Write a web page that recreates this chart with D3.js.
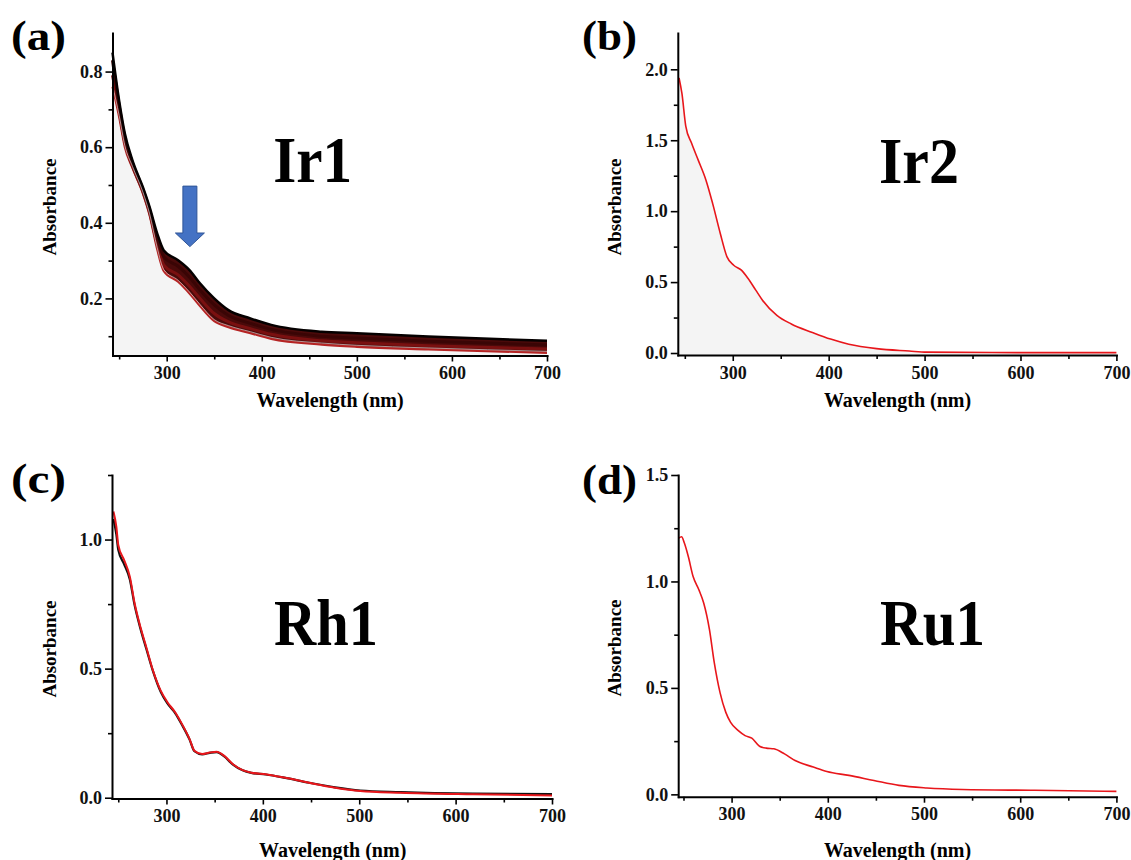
<!DOCTYPE html>
<html>
<head>
<meta charset="utf-8">
<script src="https://cdn.jsdelivr.net/npm/d3@7"></script>
<style>
  body { margin: 0; background: #fff; }
</style>
</head>
<body>
<svg id="chart" width="1131" height="860"></svg>
<script>
// ---- data ----
const xTicks = [300, 400, 500, 600, 700];
const xMinorTicks = [250, 350, 450, 550, 650];

// (a) Ir1 : family of spectra, drawn as top / two middle / bottom traces
const ir1Wavelength = [243, 250, 256, 264, 275, 282, 290, 297, 312, 324, 335, 350, 365, 388, 410, 463, 500, 575, 700];
const ir1Top    = [0.850, 0.723, 0.636, 0.565, 0.494, 0.442, 0.372, 0.327, 0.301, 0.275, 0.240, 0.200, 0.169, 0.147, 0.130, 0.112, 0.108, 0.099, 0.088];
const ir1Upper  = [0.830, 0.710, 0.625, 0.558, 0.488, 0.435, 0.360, 0.310, 0.285, 0.256, 0.222, 0.183, 0.155, 0.134, 0.118, 0.100, 0.095, 0.087, 0.077];
const ir1Lower  = [0.790, 0.695, 0.612, 0.550, 0.482, 0.427, 0.343, 0.288, 0.262, 0.232, 0.200, 0.160, 0.138, 0.120, 0.105, 0.088, 0.083, 0.075, 0.066];
const ir1Bottom = [0.760, 0.680, 0.600, 0.545, 0.477, 0.420, 0.330, 0.272, 0.244, 0.213, 0.180, 0.140, 0.124, 0.108, 0.093, 0.078, 0.072, 0.065, 0.056];
const ir1YTicks = [0.2, 0.4, 0.6, 0.8];
const ir1YMinor = [0.1, 0.3, 0.5, 0.7];

// (b) Ir2
const ir2Wavelength = [244, 247, 251, 257, 264, 272, 279, 287, 294, 301, 309, 316, 324, 331, 346, 361, 383, 402, 421, 450, 484, 502, 600, 700];
const ir2Abs = [1.94, 1.83, 1.60, 1.48, 1.36, 1.22, 1.055, 0.843, 0.678, 0.619, 0.584, 0.525, 0.443, 0.372, 0.266, 0.205, 0.145, 0.098, 0.062, 0.031, 0.014, 0.006, 0.003, 0.003];
const ir2YTicks = [0, 0.5, 1.0, 1.5, 2.0];
const ir2YMinor = [0.25, 0.75, 1.25, 1.75];

// (c) Rh1 : black and red traces
const rh1Wavelength = [245, 248, 250, 256, 262, 267, 273, 279, 286, 294, 301, 309, 316, 324, 329, 337, 345, 352, 360, 369, 379, 388, 403, 422, 448, 475, 501, 543, 618, 700];
const rh1Red   = [1.109, 1.050, 0.979, 0.921, 0.856, 0.752, 0.661, 0.584, 0.493, 0.415, 0.370, 0.331, 0.286, 0.227, 0.182, 0.169, 0.175, 0.178, 0.162, 0.130, 0.107, 0.097, 0.091, 0.078, 0.058, 0.039, 0.026, 0.019, 0.013, 0.009];
const rh1Black = [1.080, 1.020, 0.960, 0.905, 0.845, 0.745, 0.655, 0.578, 0.490, 0.410, 0.365, 0.328, 0.283, 0.225, 0.180, 0.168, 0.174, 0.177, 0.160, 0.128, 0.106, 0.096, 0.090, 0.078, 0.058, 0.040, 0.028, 0.022, 0.016, 0.014];
const rh1YTicks = [0, 0.5, 1.0];
const rh1YMinor = [0.25, 0.75, 1.25];

// (d) Ru1
const ru1Wavelength = [245, 248, 251, 255, 260, 266, 271, 277, 282, 288, 294, 299, 307, 314, 321, 329, 336, 344, 355, 366, 385, 399, 422, 448, 474, 503, 540, 615, 700];
const ru1Abs = [1.203, 1.210, 1.179, 1.117, 1.023, 0.961, 0.899, 0.774, 0.619, 0.478, 0.385, 0.338, 0.299, 0.276, 0.264, 0.226, 0.217, 0.214, 0.190, 0.159, 0.128, 0.107, 0.089, 0.065, 0.042, 0.030, 0.023, 0.019, 0.014];
const ru1YTicks = [0, 0.5, 1.0, 1.5];
const ru1YMinor = [0.25, 0.75, 1.25];

const serif = '"Liberation Serif", "Times New Roman", serif';
const svg = d3.select('#chart');

function zipSeries(xs, ys) {
  return xs.map((w, i) => ({ w: w, a: ys[i] }));
}

const panels = [
  { letter: '(a)', name: 'Ir1', left: 112.5, right: 547, top: 33, bottom: 355.5,
    xDomain: [243, 700], yDomain: [0.049, 0.902], yTicks: ir1YTicks, yMinor: ir1YMinor,
    letterX: 11, letterY: 50, nameX: 312.7, nameY: 182, nameW: 79,
    ylabX: 56, ylabY: 207, xlabX: 330, xlabY: 407, shade: ir1Bottom, shadeX: ir1Wavelength,
    traces: [
      { xs: ir1Wavelength, ys: ir1Bottom, color: '#b52424', width: 2.2 },
      { xs: ir1Wavelength, ys: ir1Lower, color: '#7a1010', width: 3 },
      { xs: ir1Wavelength, ys: ir1Upper, color: '#3a0505', width: 3 },
      { xs: ir1Wavelength, ys: ir1Top, color: '#050000', width: 2.5 }
    ], band: [ir1Top, ir1Bottom] },
  { letter: '(b)', name: 'Ir2', left: 677.8, right: 1116.4, top: 33, bottom: 355,
    xDomain: [242.7, 700], yDomain: [-0.014, 2.256], yTicks: ir2YTicks, yMinor: ir2YMinor,
    letterX: 582, letterY: 50, nameX: 919, nameY: 183, nameW: 80,
    ylabX: 621, ylabY: 207, xlabX: 897.5, xlabY: 407, shade: ir2Abs, shadeX: ir2Wavelength,
    traces: [ { xs: ir2Wavelength, ys: ir2Abs, color: '#e8161b', width: 1.6 } ] },
  { letter: '(c)', name: 'Rh1', left: 112, right: 552, top: 475, bottom: 798.5,
    xDomain: [243.5, 700], yDomain: [-0.003, 1.25], yTicks: rh1YTicks, yMinor: rh1YMinor,
    letterX: 11, letterY: 493, nameX: 326, nameY: 645, nameW: 104,
    ylabX: 56, ylabY: 649, xlabX: 332.7, xlabY: 857,
    traces: [
      { xs: rh1Wavelength, ys: rh1Black, color: '#111111', width: 2.2 },
      { xs: rh1Wavelength, ys: rh1Red, color: '#e8161b', width: 2 }
    ] },
  { letter: '(d)', name: 'Ru1', left: 678.2, right: 1116.4, top: 475, bottom: 796.7,
    xDomain: [244.5, 700], yDomain: [-0.011, 1.5], yTicks: ru1YTicks, yMinor: ru1YMinor,
    letterX: 582, letterY: 494, nameX: 932.5, nameY: 645, nameW: 105,
    ylabX: 621, ylabY: 648, xlabX: 897.5, xlabY: 857,
    traces: [ { xs: ru1Wavelength, ys: ru1Abs, color: '#e8161b', width: 1.6 } ] }
];

function styleAxis(g) {
  g.attr('font-family', serif).attr('font-size', 18).attr('font-weight', 'bold');
  g.select('.domain').attr('stroke', '#000').attr('stroke-width', 2).attr('stroke-linecap', 'square');
  g.selectAll('.tick line').attr('stroke', '#000').attr('stroke-width', 1.6);
  g.selectAll('.tick text').attr('fill', '#111');
}

function drawPanel(p) {
  const x = d3.scaleLinear().domain(p.xDomain).range([p.left, p.right]);
  const y = d3.scaleLinear().domain(p.yDomain).range([p.bottom, p.top]);
  const g = svg.append('g');

  // faint shading below the spectrum
  if (p.shade) {
    const area = d3.area().x(d => x(d.w)).y0(p.bottom).y1(d => y(d.a)).curve(d3.curveMonotoneX);
    g.append('path').datum(zipSeries(p.shadeX, p.shade))
      .attr('d', area).attr('fill', '#f4f4f4');
  }

  // band between the outer Ir1 traces
  if (p.band) {
    const bandData = p.traces[0].xs.map((w, i) => ({ w: w, hi: p.band[0][i], lo: p.band[1][i] }));
    const bandArea = d3.area().x(d => x(d.w)).y0(d => y(d.lo)).y1(d => y(d.hi)).curve(d3.curveMonotoneX);
    g.append('path').datum(bandData).attr('d', bandArea).attr('fill', '#4a0a0a');
  }

  const line = d3.line().x(d => x(d.w)).y(d => y(d.a)).curve(d3.curveMonotoneX);
  p.traces.forEach(t => {
    g.append('path').datum(zipSeries(t.xs, t.ys))
      .attr('d', line).attr('fill', 'none')
      .attr('stroke', t.color).attr('stroke-width', t.width).attr('stroke-linejoin', 'round');
  });

  // white streaks at the lower edge of the Ir1 band
  if (p.band) {
    g.append('path').datum(zipSeries(p.traces[0].xs, p.band[1]))
      .attr('d', line).attr('fill', 'none').attr('stroke', '#ffffff')
      .attr('stroke-width', 0.7).attr('stroke-opacity', 0.8).attr('transform', 'translate(0,-1.5)');
  }

  // axes
  g.append('g').attr('transform', `translate(0,${p.bottom})`)
    .call(d3.axisBottom(x).tickValues(xMinorTicks).tickSize(4).tickFormat(''))
    .call(a => a.select('.domain').remove())
    .call(styleAxis);
  g.append('g').attr('transform', `translate(0,${p.bottom})`)
    .call(d3.axisBottom(x).tickValues(xTicks).tickSize(6).tickPadding(5).tickSizeOuter(0).tickFormat(d3.format('d')))
    .call(styleAxis);
  g.append('g').attr('transform', `translate(${p.left},0)`)
    .call(d3.axisLeft(y).tickValues(p.yMinor.filter(v => v <= p.yDomain[1])).tickSize(4).tickFormat(''))
    .call(a => a.select('.domain').remove())
    .call(styleAxis);
  g.append('g').attr('transform', `translate(${p.left},0)`)
    .call(d3.axisLeft(y).tickValues(p.yTicks).tickSize(7).tickPadding(3).tickSizeOuter(0).tickFormat(d3.format('.1f')))
    .call(styleAxis);

  // axis titles
  g.append('text').attr('x', p.xlabX).attr('y', p.xlabY)
    .attr('text-anchor', 'middle').attr('font-family', serif).attr('font-weight', 'bold')
    .attr('font-size', 20).text('Wavelength (nm)');
  g.append('text').attr('transform', `translate(${p.ylabX},${p.ylabY}) rotate(-90)`)
    .attr('text-anchor', 'middle').attr('font-family', serif).attr('font-weight', 'bold')
    .attr('font-size', 19).text('Absorbance');

  // panel letter and compound name
  g.append('text').attr('x', p.letterX).attr('y', p.letterY)
    .attr('font-family', serif).attr('font-weight', 'bold').attr('font-size', 42)
    .attr('textLength', 55).attr('lengthAdjust', 'spacingAndGlyphs').text(p.letter);
  g.append('text').attr('x', p.nameX - p.nameW / 2).attr('y', p.nameY)
    .attr('font-family', serif).attr('font-weight', 'bold').attr('font-size', 66)
    .attr('textLength', p.nameW).attr('lengthAdjust', 'spacingAndGlyphs').text(p.name);

  return { x, y, g };
}

const drawn = panels.map(drawPanel);

// blue arrow in panel (a), placed in data units
const arrowAt = { w: 324.4, top: 0.497, neck: 0.373, tip: 0.337 };
const ax = drawn[0].x, ay = drawn[0].y;
const cx = ax(arrowAt.w);
const shaftHalf = 7, headHalf = 14.5;
const arrowPts = [
  [cx - shaftHalf, ay(arrowAt.top)], [cx + shaftHalf, ay(arrowAt.top)],
  [cx + shaftHalf, ay(arrowAt.neck)], [cx + headHalf, ay(arrowAt.neck)],
  [cx, ay(arrowAt.tip)], [cx - headHalf, ay(arrowAt.neck)],
  [cx - shaftHalf, ay(arrowAt.neck)]
];
drawn[0].g.append('path')
  .attr('d', d3.line()(arrowPts) + 'Z')
  .attr('fill', '#4472c4').attr('stroke', '#2f5597').attr('stroke-width', 1);
</script>
</body>
</html>
